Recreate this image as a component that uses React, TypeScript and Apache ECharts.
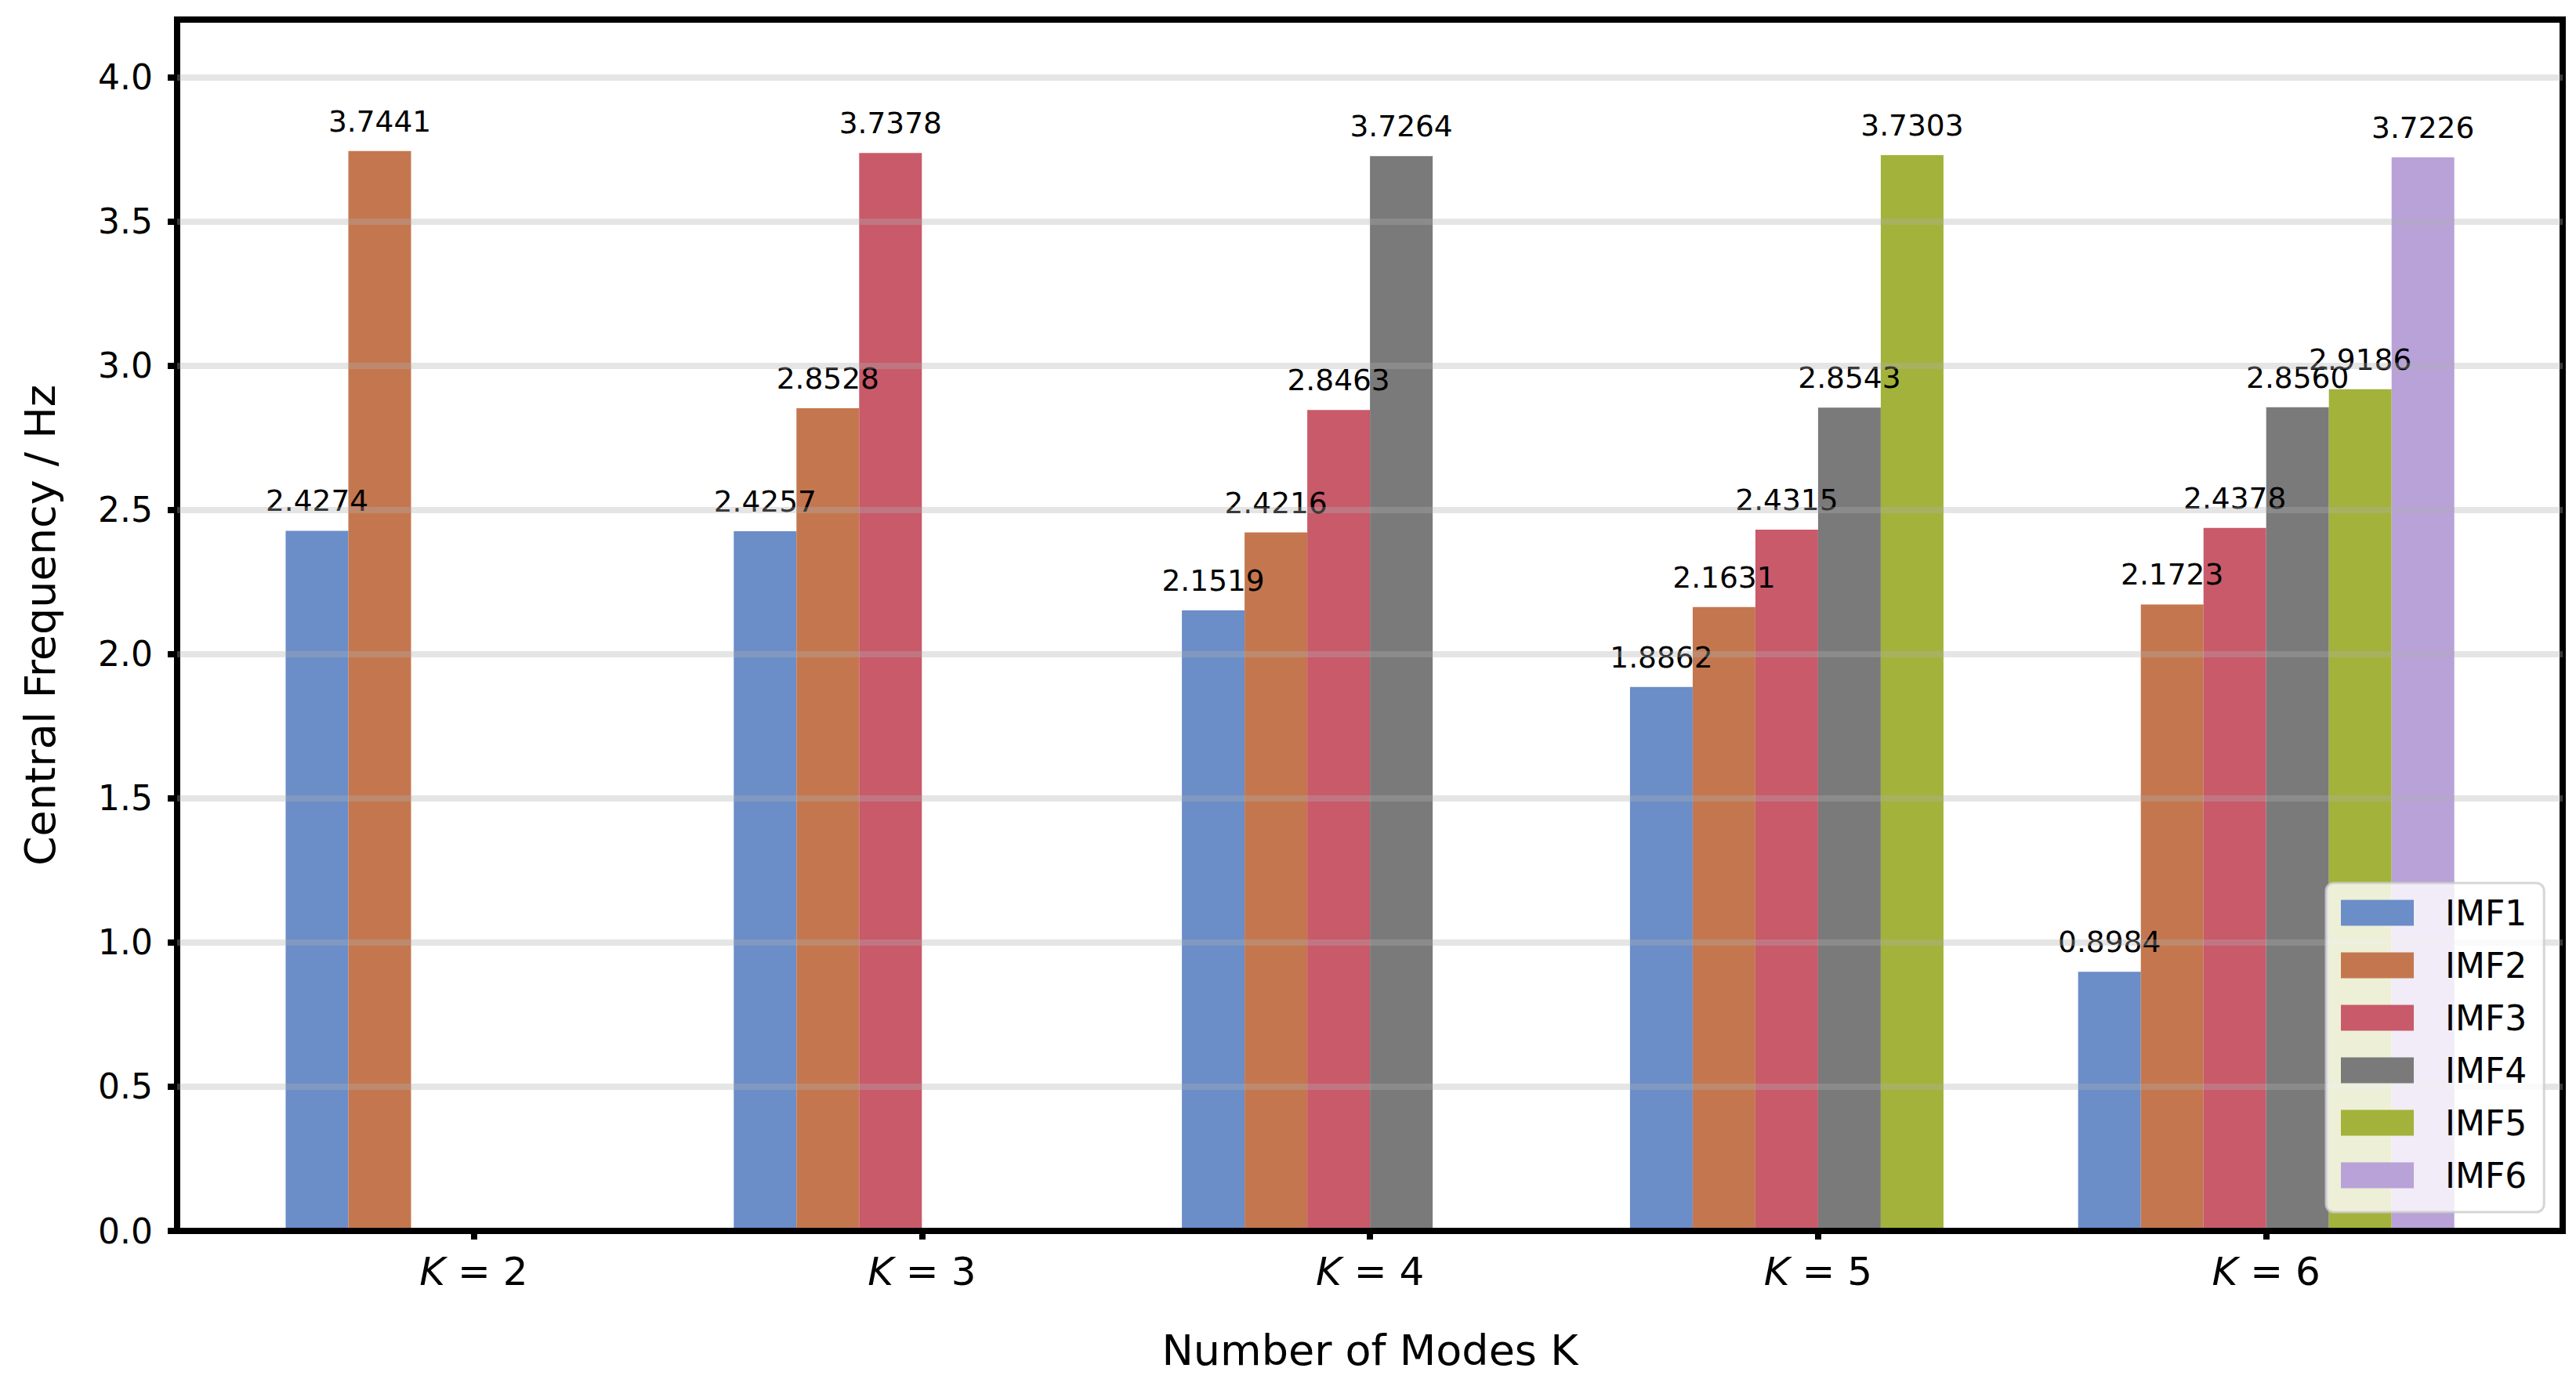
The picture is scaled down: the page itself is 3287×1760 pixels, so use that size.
import React, { useEffect, useRef } from 'react';
import * as echarts from 'echarts';

const kValues = ['2', '3', '4', '5', '6'];
const seriesNames = ['IMF1', 'IMF2', 'IMF3', 'IMF4', 'IMF5', 'IMF6'];
const imf1 = [2.4274, 2.4257, 2.1519, 1.8862, 0.8984];
const imf2 = [3.7441, 2.8528, 2.4216, 2.1631, 2.1723];
const imf3 = [null, 3.7378, 2.8463, 2.4315, 2.4378];
const imf4 = [null, null, 3.7264, 2.8543, 2.856];
const imf5 = [null, null, null, 3.7303, 2.9186];
const imf6 = [null, null, null, null, 3.7226];
const seriesValues = [imf1, imf2, imf3, imf4, imf5, imf6];
const seriesColors = ['#6B8DC8', '#C4774F', '#C85A6A', '#7A7A7A', '#A3B23A', '#B8A2D8'];
const yTicks = [0, 0.5, 1.0, 1.5, 2.0, 2.5, 3.0, 3.5, 4.0];

const FONT = 'DejaVu Sans';

export default function App() {
  const ref = useRef<HTMLDivElement>(null);
  useEffect(() => {
    if (!ref.current) return;
    const chart = echarts.init(ref.current, null, { renderer: 'svg', width: 3287, height: 1760 });
    const option: any = {
      animation: false,
      backgroundColor: '#ffffff',
      grid: [
        { left: 226, top: 25, width: 3044, height: 1546, show: true, borderColor: '#000', borderWidth: 8, backgroundColor: 'transparent' },
        { left: 318.6, top: 25, width: 2859, height: 1546 },
      ],
      xAxis: [
        {
          gridIndex: 0, type: 'value', min: 0, max: 1, z: 10,
          axisLine: { show: true, onZero: false, lineStyle: { color: '#000', width: 8 } },
          axisTick: { show: false }, axisLabel: { show: false }, splitLine: { show: false },
          name: 'Number of Modes K', nameLocation: 'middle', nameGap: 125,
          nameTextStyle: { fontFamily: FONT, fontSize: 54, color: '#000' },
        },
        {
          gridIndex: 1, type: 'category', data: kValues, z: 10,
          axisLine: { show: false },
          axisTick: { show: true, alignWithLabel: true, length: 11, lineStyle: { color: '#000', width: 8 } },
          axisLabel: {
            margin: 27, fontFamily: FONT, fontSize: 50, color: '#000',
            formatter: (v: string) => `{i|K} = ${v}`,
            rich: { i: { fontStyle: 'italic', fontFamily: FONT, fontSize: 50, color: '#000' } },
          },
          splitLine: { show: false },
        },
      ],
      yAxis: [
        {
          gridIndex: 0, type: 'value', min: 0, max: 4.2, interval: 0.5, z: 10,
          axisLine: { show: false },
          axisTick: { show: true, length: 12, customValues: yTicks, lineStyle: { color: '#000', width: 8 } },
          axisLabel: {
            customValues: yTicks, margin: 31, fontFamily: FONT, fontSize: 44, color: '#000',
            formatter: (v: number) => v.toFixed(1),
          },
          splitLine: { show: true, lineStyle: { color: 'rgba(176,176,176,0.33)', width: 8 } },
          name: 'Central Frequency / Hz', nameLocation: 'middle', nameGap: 148,
          nameTextStyle: { fontFamily: FONT, fontSize: 54, color: '#000' },
        },
        { gridIndex: 1, type: 'value', min: 0, max: 4.2, show: false },
      ],
      legend: {
        orient: 'vertical', left: 2968, top: 1127, z: 20,
        itemWidth: 93, itemHeight: 33, itemGap: 23,
        padding: [16, 22, 25, 19],
        backgroundColor: 'rgba(255,255,255,0.8)',
        borderColor: 'rgba(204,204,204,0.8)', borderWidth: 3, borderRadius: 10,
        icon: 'rect',
        textStyle: { fontFamily: FONT, fontSize: 44, color: '#000', padding: [0, 0, 0, 35] },
        data: seriesNames,
      },
      series: seriesNames.map((name, i) => ({
        name, type: 'bar', xAxisIndex: 1, yAxisIndex: 1,
        barWidth: 80, barGap: '0%', z: 2,
        itemStyle: { color: seriesColors[i] },
        label: {
          show: true, position: 'top', distance: 19,
          fontFamily: FONT, fontSize: 37.5, color: '#000',
          formatter: (p: any) => Number(p.value).toFixed(4),
        },
        data: seriesValues[i].map((v) => (v === null ? '-' : v)),
      })),
    };
    chart.setOption(option);
    return () => chart.dispose();
  }, []);
  return (
    <div
      ref={ref}
      style={{ position: 'fixed', left: 0, top: 0, width: 3287, height: 1760, background: '#fff' }}
    />
  );
}
